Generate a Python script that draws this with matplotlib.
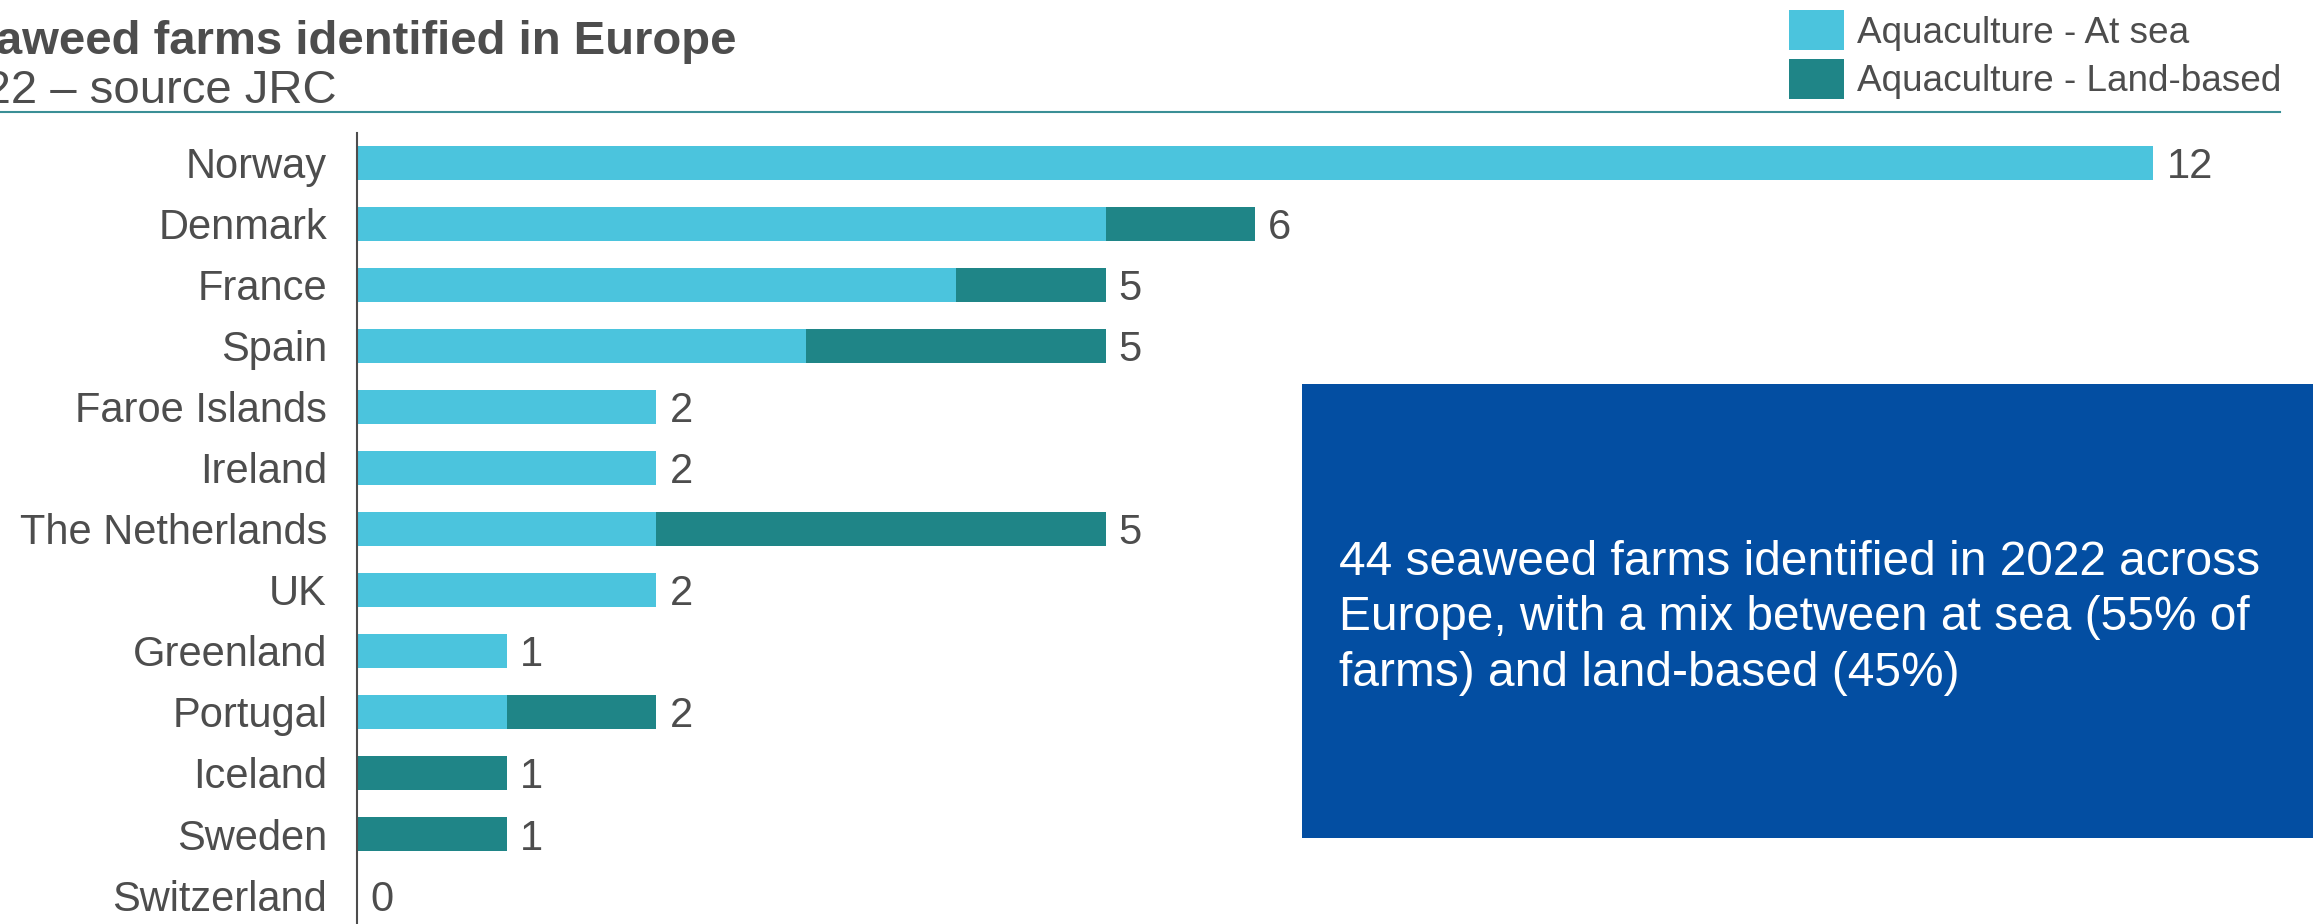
import matplotlib
matplotlib.use("Agg")
import matplotlib.pyplot as plt
import numpy as np

plt.rcParams['font.family'] = ['Liberation Sans', 'DejaVu Sans']

countries = ["Norway", "Denmark", "France", "Spain", "Faroe Islands", "Ireland",
             "The Netherlands", "UK", "Greenland", "Portugal", "Iceland", "Sweden",
             "Switzerland"]
at_sea = [12, 5, 4, 3, 2, 2, 2, 2, 1, 1, 0, 0, 0]
land_based = [0, 1, 1, 2, 0, 0, 3, 0, 0, 1, 1, 1, 0]
series_names = ["Aquaculture - At sea", "Aquaculture - Land-based"]
title = "Seaweed farms identified in Europe"
subtitle = "2022 \u2013 source JRC"
box_text = ("44 seaweed farms identified in 2022 across\n"
            "Europe, with a mix between at sea (55% of\n"
            "farms) and land-based (45%)")

C_SEA = "#4BC4DD"
C_LAND = "#1F8587"
C_TEXT = "#4D4D4D"
C_BOX = "#034EA2"

W, H = 2313, 924
fig = plt.figure(figsize=(W / 100, H / 100), dpi=100)
fig.patch.set_facecolor("white")

ax_left = 357 / W
ax_top = 1 - 133 / H
ax = fig.add_axes([ax_left, 0, 1 - ax_left, ax_top])

y = np.arange(len(countries))
sea = np.array(at_sea)
land = np.array(land_based)
b1 = ax.barh(y, sea, height=0.56, color=C_SEA, label=series_names[0])
b2 = ax.barh(y, land, left=sea, height=0.56, color=C_LAND, label=series_names[1])

unit = 149.7
ax.set_xlim(0, (W - 357) / unit)
ax.set_ylim(12.475, -0.49)

totals = sea + land
for yi, t in zip(y, totals):
    ax.annotate(f"{t}", (t, yi), xytext=(9.4, 0), textcoords="offset points",
                va="center_baseline", ha="left", fontsize=30, color=C_TEXT)

ax.set_yticks(y)
ax.set_yticklabels(countries, fontsize=30, color=C_TEXT)
ax.tick_params(axis="y", length=0, pad=21.6)
ax.set_xticks([])
for s in ["top", "right", "bottom"]:
    ax.spines[s].set_visible(False)
ax.spines["left"].set_color(C_TEXT)
ax.spines["left"].set_linewidth(1.5)
ax.patch.set_alpha(0)

# Title and subtitle (left part falls outside the canvas like the reference)
fig.text(736 / W, 1 - 54 / H, title, ha="right", va="baseline",
         fontsize=34, fontweight="bold", color=C_TEXT)
fig.text(337 / W, 1 - 103 / H, subtitle, ha="right", va="baseline",
         fontsize=34, color=C_TEXT)

# separator line
fig.add_artist(plt.Line2D([0, 2280 / W], [1 - 112 / H, 1 - 112 / H],
                          color="#3A8F96", linewidth=1.5, transform=fig.transFigure))

# legend
leg = fig.legend(handles=[b1, b2], labels=series_names, loc="upper left",
                 bbox_to_anchor=(1789 / W, 1 - 10 / H), frameon=False,
                 fontsize=26.6, handlelength=1.49, handleheight=1.3,
                 handletextpad=0.35, labelspacing=0.22, borderpad=0,
                 borderaxespad=0)
for t in leg.get_texts():
    t.set_color(C_TEXT)

# blue info box
box = plt.Rectangle((1302 / W, 1 - 838 / H), (W - 1302) / W, (838 - 384) / H,
                    transform=fig.transFigure, facecolor=C_BOX, edgecolor="none")
fig.add_artist(box)
fig.text(1339 / W, 1 - 618 / H, box_text, ha="left", va="center",
         fontsize=34.5, color="white", linespacing=1.3)

fig.savefig("out.png", dpi=100, facecolor="white")
